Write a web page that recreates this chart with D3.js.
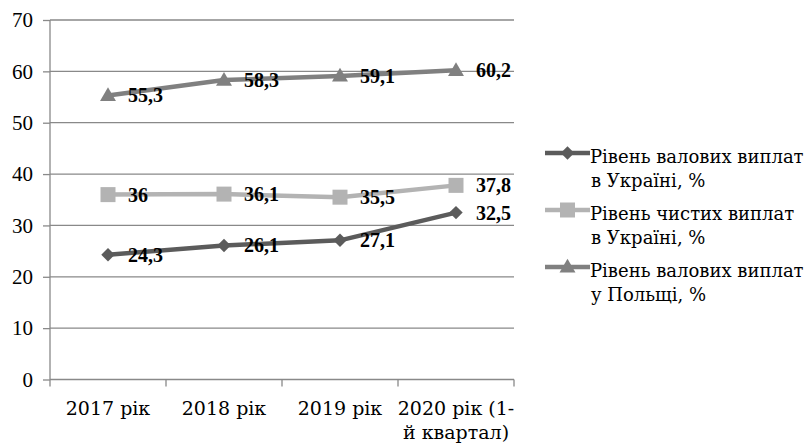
<!DOCTYPE html>
<html>
<head>
<meta charset="utf-8">
<script src="https://cdn.jsdelivr.net/npm/d3@7"></script>
<style>
  html, body { margin: 0; padding: 0; background: #fff; }
  svg { display: block; }
</style>
</head>
<body>
<svg id="fig" width="812" height="446"></svg>
<script>
// Categories (x axis), each may wrap into several lines
const categories = ["2017 рік", "2018 рік", "2019 рік", "2020 рік (1-й квартал)"];
const categoryLines = [["2017 рік"], ["2018 рік"], ["2019 рік"], ["2020 рік (1-", "й квартал)"]];

// Series values
const grossUkraine = [24.3, 26.1, 27.1, 32.5];
const netUkraine = [36, 36.1, 35.5, 37.8];
const grossPoland = [55.3, 58.3, 59.1, 60.2];

// Legend labels (two lines each)
const seriesNames = [
  ["Рівень валових виплат", "в Україні, %"],
  ["Рівень чистих виплат", "в Україні, %"],
  ["Рівень валових виплат", "у Польщі, %"]
];

// Y axis ticks
const yTicks = [0, 10, 20, 30, 40, 50, 60, 70];

const series = [
  { values: grossUkraine, color: "#5b5b5b", marker: "diamond", name: seriesNames[0] },
  { values: netUkraine, color: "#b3b3b3", marker: "square", name: seriesNames[1] },
  { values: grossPoland, color: "#808080", marker: "triangle", name: seriesNames[2] }
];

const svg = d3.select("#fig");
// Numbers use Liberation Serif; Cyrillic text uses DejaVu Serif
const numFont = "Liberation Serif";
const cyrFont = "DejaVu Serif";
function textStyle(sel, family, size, weight) {
  return sel.style("font-family", family)
    .style("font-size", size + "px")
    .style("font-weight", weight || "normal")
    .attr("fill", "#000");
}

const plot = { left: 50, right: 514, top: 20, bottom: 379.5 };

const x = d3.scaleBand().domain(categories).range([plot.left, plot.right]).padding(0);
const y = d3.scaleLinear().domain([0, 70]).range([plot.bottom, plot.top]);
const cx = c => x(c) + x.bandwidth() / 2;

const gridColor = "#898989";

// Horizontal gridlines
svg.append("g").selectAll("line").data(yTicks.filter(t => t > 0)).join("line")
  .attr("x1", plot.left).attr("x2", plot.right)
  .attr("y1", d => y(d)).attr("y2", d => y(d))
  .attr("stroke", gridColor).attr("stroke-width", 1.3);

// Y axis
const yAxis = svg.append("g")
  .attr("transform", `translate(${plot.left},0)`)
  .call(d3.axisLeft(y).tickValues(yTicks).tickSize(7).tickPadding(10).tickFormat(d3.format("d")));
yAxis.selectAll("line, path").attr("stroke", gridColor).attr("stroke-width", 1.3);
yAxis.select(".domain").attr("d", `M0,${plot.bottom}V${plot.top}`);
textStyle(yAxis.selectAll("text"), numFont, 21);

// X axis with ticks at band boundaries
const xAxisG = svg.append("g").attr("transform", `translate(0,${plot.bottom})`);
xAxisG.append("line").attr("x1", plot.left).attr("x2", plot.right)
  .attr("stroke", gridColor).attr("stroke-width", 1.3);
const boundaries = categories.map(c => x(c)).concat([plot.right]);
xAxisG.selectAll(".tick").data(boundaries).join("line")
  .attr("x1", d => d).attr("x2", d => d).attr("y1", 0).attr("y2", 7)
  .attr("stroke", gridColor).attr("stroke-width", 1.3);
const catText = xAxisG.selectAll("text.cat").data(categories).join("text")
  .attr("class", "cat")
  .attr("x", d => cx(d)).attr("y", 35.5)
  .attr("text-anchor", "middle")
  .each(function (d, i) {
    const t = d3.select(this);
    categoryLines[i].forEach((ln, j) => {
      t.append("tspan").attr("x", cx(d)).attr("dy", j === 0 ? 0 : 24).text(ln);
    });
  });
textStyle(catText, cyrFont, 19);

// Marker shapes
function drawMarker(g, kind, color, px, py) {
  if (kind === "diamond") {
    g.append("path").attr("d", d3.symbol().type(d3.symbolSquare).size(90)())
      .attr("transform", `translate(${px},${py}) rotate(45)`).attr("fill", color);
  } else if (kind === "square") {
    g.append("rect").attr("x", px - 7.5).attr("y", py - 7.5).attr("width", 15).attr("height", 15).attr("fill", color);
  } else {
    g.append("path").attr("d", d3.symbol().type(d3.symbolTriangle).size(110)())
      .attr("transform", `translate(${px},${py + 1})`).attr("fill", color);
  }
}

const line = d3.line().x((d, i) => cx(categories[i])).y(d => y(d));

series.forEach(s => {
  const g = svg.append("g");
  g.append("path").datum(s.values).attr("d", line)
    .attr("fill", "none").attr("stroke", s.color).attr("stroke-width", 4.5)
    .attr("stroke-linejoin", "round");
  s.values.forEach((v, i) => drawMarker(g, s.marker, s.color, cx(categories[i]), y(v)));
});

// Data labels
series.forEach(s => {
  const lbl = svg.append("g").selectAll("text").data(s.values).join("text")
    .attr("x", (d, i) => cx(categories[i]) + 20)
    .attr("y", d => y(d))
    .attr("dy", "0.35em")
    .text(d => String(d).replace(".", ","));
  textStyle(lbl, numFont, 20, "bold");
});

// Legend
const legendTop = [163, 220, 277];
series.forEach((s, i) => {
  const g = svg.append("g");
  const ly = legendTop[i] - 10;
  g.append("line").attr("x1", 545).attr("x2", 590).attr("y1", ly).attr("y2", ly)
    .attr("stroke", s.color).attr("stroke-width", 4.5);
  drawMarker(g, s.marker, s.color, 567.5, ly);
  s.name.forEach((ln, j) => {
    const t = g.append("text").attr("x", j === 0 ? 590 : 591).attr("y", legendTop[i] + j * 23.5).text(ln);
    textStyle(t, cyrFont, 18);
  });
});
</script>
</body>
</html>
